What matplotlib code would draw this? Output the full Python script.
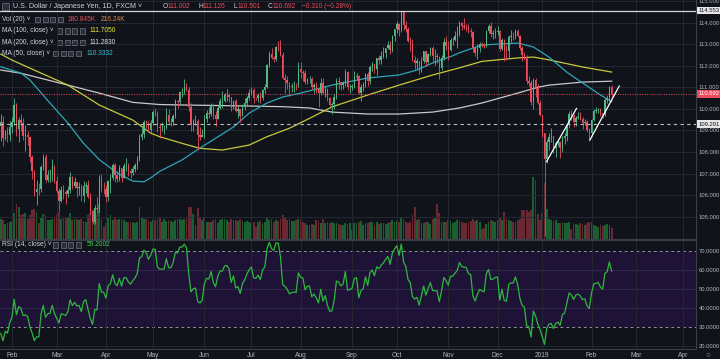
import numpy as np
import pandas as pd
import matplotlib
matplotlib.use("Agg")
import matplotlib.pyplot as plt
from matplotlib.patches import Rectangle
from matplotlib.transforms import blended_transform_factory

# USD/JPY daily bars, 25 Jan 2018 .. 14 Feb 2019 (the feed has no bar on 25 Dec / 1 Jan)
dates = pd.bdate_range("2018-01-25", "2019-02-14")
dates = dates.drop(pd.to_datetime(["2018-12-25", "2019-01-01"]))
future = pd.bdate_range("2019-02-15", "2019-04-30")

# closes before the visible window, only used to warm up the RSI
warmup_closes = [113.55, 113.52, 112.55, 112.36, 112.62, 112.64, 112.87, 113.37, 113.33, 113.26,
                 113.21, 113.33, 112.88, 112.66, 112.28, 112.54, 112.74, 113.05, 113.11, 112.63,
                 111.43, 111.25, 111.03, 110.57, 110.41, 111.05, 111.14, 110.80, 111.01, 110.29, 109.22]

closes = (
    [109.41, 108.63, 108.97, 108.79, 109.18] +
    [109.39, 110.17, 109.06, 109.47, 109.33, 108.76, 108.79, 108.68, 107.79, 107.13,
     106.13, 106.29, 106.28, 107.31, 107.78, 106.71, 106.91, 106.93, 107.35, 106.66] +
    [106.21, 105.75, 106.22, 106.15, 106.07, 106.24, 106.82, 106.42, 106.59, 106.33, 106.36,
     105.97, 106.40, 106.49, 105.90, 105.26, 104.75, 105.40, 105.37, 106.84, 106.29, 106.27] +
    [105.89, 106.64, 106.78, 107.39, 106.91, 106.76, 107.24, 106.80, 107.36, 107.37, 107.14,
     107.03, 107.23, 107.38, 107.63, 108.71, 108.82, 109.38, 109.29, 109.03, 109.33] +
    [109.86, 109.85, 109.18, 109.09, 109.09, 109.10, 109.72, 109.39, 109.39, 109.66, 110.35, 110.34,
     110.77, 110.77, 110.99, 110.89, 110.07, 109.26, 109.41, 109.44, 108.79, 108.70, 108.80] +
    [109.53, 109.81, 109.78, 110.17, 109.72, 109.54, 110.06, 110.35, 110.35, 110.62, 110.66,
     110.55, 110.08, 110.37, 109.91, 109.97, 109.69, 110.09, 110.25, 110.51, 110.72] +
    [110.86, 110.51, 110.49, 110.62, 110.48, 110.87, 111.01, 112.03, 112.55, 112.36, 112.31,
     112.88, 112.87, 112.48, 111.41, 111.33, 111.20, 110.99, 111.04, 111.06, 111.05, 111.86] +
    [111.70, 111.68, 111.25, 111.39, 111.39, 110.99, 111.09, 110.94, 110.75, 111.19, 110.72, 110.91,
     110.49, 110.20, 110.21, 110.54, 111.29, 111.25, 111.11, 111.18, 111.71, 111.00, 111.03] +
    [111.08, 111.48, 111.52, 110.73, 111.02, 111.10, 111.62, 111.28, 111.92, 112.07,
     111.85, 112.34, 112.27, 112.47, 112.59, 112.80, 112.96, 112.73, 113.39, 113.68] +
    [113.93, 113.64, 114.50, 113.87, 113.69, 113.14, 112.99, 112.27, 112.14, 112.22, 111.78, 112.20,
     112.67, 112.19, 112.54, 112.84, 112.44, 112.44, 112.42, 111.89, 112.38, 113.08, 112.93] +
    [112.72, 113.20, 113.21, 113.37, 113.52, 113.97, 113.83, 113.81, 113.80, 113.61, 113.58,
     112.82, 112.60, 112.83, 113.02, 112.96, 112.93, 113.62, 113.82, 113.49, 113.51, 113.57] +
    [113.59, 112.79, 113.18, 112.70, 112.68, 113.31, 113.39, 113.38, 113.63, 113.37,
     112.82, 112.50, 112.42, 111.30, 111.22, 110.33, 111.35, 110.97, 110.28, 109.70] +
    [108.88, 107.69, 108.48, 108.71, 108.74, 108.17, 108.41, 108.48, 108.17, 108.67, 108.74,
     109.24, 109.77, 109.65, 109.37, 109.59, 109.64, 109.54, 109.35, 109.38, 109.02, 108.88] +
    [109.48, 109.90, 109.94, 109.97, 109.79, 109.72, 110.40, 110.48, 111.002, 110.692]
)

highs = (
    [109.78, 109.69, 109.04, 109.18, 109.45] +
    [109.60, 110.48, 110.25, 109.63, 109.78, 109.58, 109.27, 108.96, 108.76, 107.88,
     107.18, 106.72, 106.55, 107.39, 107.91, 107.90, 107.15, 107.22, 107.68, 107.38] +
    [106.90, 106.34, 106.44, 106.45, 106.25, 106.40, 107.05, 106.89, 106.86, 106.63, 106.60,
     106.50, 106.65, 106.63, 106.70, 106.09, 105.32, 105.56, 105.91, 106.92, 107.00, 106.60] +
    [106.46, 106.68, 106.98, 107.49, 107.49, 107.10, 107.39, 107.26, 107.47, 107.70, 107.51,
     107.25, 107.36, 107.48, 107.83, 108.84, 109.20, 109.48, 109.47, 109.44, 109.50] +
    [109.93, 110.03, 109.88, 109.36, 109.40, 109.25, 110.02, 109.98, 109.56, 109.76, 110.45, 110.41,
     110.85, 110.97, 111.40, 111.19, 110.99, 110.29, 109.53, 109.72, 109.54, 109.14, 109.05] +
    [109.73, 109.93, 110.07, 110.27, 110.24, 109.88, 110.13, 110.49, 110.85, 110.75, 110.90,
     110.75, 110.57, 110.43, 110.47, 110.11, 109.99, 110.23, 110.48, 110.60, 110.91] +
    [111.00, 110.98, 110.57, 110.73, 110.78, 110.90, 111.13, 112.08, 112.69, 112.80, 112.45,
     112.92, 113.14, 113.17, 112.62, 111.60, 111.52, 111.25, 111.21, 111.27, 111.20, 112.15] +
    [112.15, 111.82, 111.80, 111.45, 111.50, 111.48, 111.18, 111.24, 110.98, 111.45, 111.44, 111.05,
     110.96, 110.56, 110.33, 110.69, 111.43, 111.48, 111.24, 111.31, 111.83, 111.76, 111.15] +
    [111.16, 111.75, 111.65, 111.58, 111.15, 111.26, 111.66, 111.70, 112.02, 112.17,
     112.08, 112.37, 112.48, 112.68, 112.86, 112.82, 113.14, 113.16, 113.44, 113.71] +
    [114.06, 114.00, 114.55, 114.55, 114.09, 113.80, 113.35, 113.24, 112.43, 112.35, 112.20, 112.39,
     112.68, 112.69, 112.59, 112.89, 112.91, 112.79, 112.57, 112.45, 112.50, 113.29, 113.38] +
    [113.14, 113.30, 113.32, 113.63, 113.82, 114.09, 114.03, 114.21, 113.94, 113.92, 113.77,
     113.61, 112.86, 113.00, 113.10, 113.11, 113.04, 113.67, 113.94, 114.03, 113.64, 113.73] +
    [113.84, 113.67, 113.30, 113.26, 112.98, 113.42, 113.65, 113.58, 113.71, 113.71,
     113.41, 112.92, 112.62, 112.48, 111.54, 111.34, 111.44, 111.45, 111.14, 110.39] +
    [109.73, 108.90, 108.58, 108.88, 109.10, 108.70, 108.50, 108.62, 108.52, 108.75, 108.90,
     109.30, 109.88, 109.93, 109.77, 109.68, 109.86, 109.85, 109.60, 109.54, 109.48, 109.09] +
    [109.55, 109.97, 110.08, 110.03, 110.03, 109.80, 110.48, 110.64, 111.04, 111.126]
)

lows = (
    [108.50, 108.28, 108.56, 108.45, 108.53] +
    [108.89, 109.26, 108.76, 108.45, 108.99, 108.57, 108.05, 108.33, 107.55, 106.74,
     105.96, 105.55, 105.99, 106.13, 107.18, 106.61, 106.60, 106.62, 106.66, 106.58] +
    [106.10, 105.25, 105.70, 105.83, 105.60, 105.90, 106.10, 106.30, 106.35, 105.89, 106.00,
     105.75, 105.67, 106.10, 105.85, 105.12, 104.64, 104.65, 105.12, 105.23, 106.14, 106.05] +
    [105.66, 105.73, 106.09, 106.70, 106.61, 106.62, 106.65, 106.63, 106.78, 107.12, 106.88,
     106.78, 106.93, 107.07, 107.20, 107.57, 108.55, 108.65, 109.10, 108.92, 108.92] +
    [109.27, 109.67, 108.93, 108.65, 108.95, 108.85, 109.08, 109.31, 109.21, 109.25, 109.58, 110.02,
     110.24, 110.53, 110.67, 110.83, 109.89, 108.95, 108.99, 109.25, 108.11, 108.56, 108.73] +
    [108.65, 109.40, 109.59, 109.67, 109.54, 109.19, 109.51, 109.99, 110.05, 110.30, 110.35,
     110.30, 109.90, 110.01, 109.86, 109.57, 109.37, 109.65, 109.95, 110.16, 110.43] +
    [110.65, 110.27, 110.40, 110.30, 110.25, 110.40, 110.72, 110.95, 111.96, 112.30, 112.16,
     112.21, 112.70, 112.44, 111.38, 110.75, 110.92, 110.58, 110.79, 110.76, 110.87, 111.01] +
    [111.41, 111.31, 111.16, 111.14, 111.21, 110.93, 110.72, 110.72, 110.10, 110.65, 110.70, 110.57,
     110.38, 110.12, 109.77, 109.98, 110.44, 110.94, 110.88, 110.92, 111.08, 110.87, 110.74] +
    [110.89, 110.95, 111.34, 110.70, 110.38, 110.82, 111.02, 111.08, 111.16, 111.77,
     111.65, 111.59, 112.08, 112.06, 112.38, 112.35, 112.77, 112.54, 112.62, 113.15] +
    [113.53, 113.38, 113.58, 113.65, 113.55, 113.10, 112.67, 112.20, 111.84, 111.87, 111.63, 111.73,
     112.13, 111.99, 112.14, 112.46, 112.12, 112.02, 112.14, 111.38, 111.78, 112.28, 112.75] +
    [112.28, 112.70, 112.96, 113.16, 112.82, 113.40, 113.67, 113.69, 113.63, 113.50, 113.31,
     112.65, 112.43, 112.30, 112.64, 112.86, 112.83, 112.88, 113.50, 113.31, 113.22, 113.28] +
    [113.41, 112.66, 112.74, 112.22, 112.26, 112.38, 113.10, 113.18, 113.23, 113.33,
     112.71, 112.22, 112.25, 111.16, 111.08, 110.17, 110.00, 110.57, 110.21, 109.68] +
    [108.71, 104.10, 107.48, 108.07, 108.44, 107.94, 107.76, 108.28, 107.74, 107.98, 108.37,
     108.51, 109.11, 109.49, 109.16, 109.20, 109.51, 109.46, 109.06, 109.23, 108.94, 108.50] +
    [108.72, 109.45, 109.79, 109.83, 109.66, 109.56, 109.68, 110.26, 110.35, 110.501]
)

volumes_k = (
    [330, 300, 240, 260, 280] +
    [290, 420, 560, 520, 380, 400, 420, 330, 380, 460, 480, 430, 260, 360, 400, 380, 300, 300, 330, 350] +
    [380, 440, 330, 340, 360, 350, 420, 300, 330, 320, 300, 330, 290, 280, 380, 420, 460, 400, 380, 560, 330, 200] +
    [260, 340, 380, 300, 340, 300, 320, 330, 300, 280, 270, 280, 270, 260, 280, 520, 340, 330, 320, 290, 280] +
    [300, 310, 330, 340, 280, 320, 290, 310, 290, 280, 300, 330, 320, 300, 330, 360, 520, 520, 400, 230, 500, 360, 300] +
    [340, 280, 270, 280, 300, 320, 260, 300, 320, 330, 310, 280, 320, 300, 310, 290, 320, 290, 280, 290, 280] +
    [250, 280, 200, 270, 290, 260, 270, 350, 310, 320, 280, 300, 290, 320, 390, 360, 310, 320, 290, 290, 300, 330] +
    [300, 280, 260, 230, 220, 240, 230, 300, 290, 260, 320, 260, 280, 250, 280, 260, 250, 240, 220, 230, 260, 240, 250] +
    [150, 260, 250, 270, 290, 230, 250, 260, 270, 280, 220, 280, 240, 250, 250, 240, 250, 280, 300, 280] +
    [290, 280, 340, 330, 280, 250, 270, 380, 520, 300, 320, 260, 260, 280, 270, 240, 330, 340, 560, 420, 280, 280, 270] +
    [300, 290, 250, 270, 310, 290, 280, 250, 260, 280, 290, 320, 290, 300, 270, 160, 180, 240, 270, 300, 290, 280] +
    [300, 340, 300, 430, 330, 300, 290, 270, 280, 300, 330, 460, 470, 470, 440, 460, 1000, 950, 400, 300] +
    [420, 900, 480, 330, 300, 290, 300, 250, 260, 280, 250, 260, 280, 160, 260, 240, 230, 250, 240, 230, 260, 280] +
    [280, 220, 210, 200, 220, 210, 230, 240, 230, 180.845]
)

# moving averages, sampled along the drawn curves (bar index, price)
ma50_idx = [0, 9, 13, 22, 30, 37, 44, 52, 59, 64, 67, 71, 81, 89, 97, 104, 111, 119, 126, 134,
            148, 164, 178, 186, 193, 201, 205, 215, 231, 238, 245, 253, 260, 268, 273]
ma50_val = [111.95, 111.66, 111.34, 110.27, 109.34, 108.40, 107.65, 107.03, 106.65, 106.62, 106.80,
            107.10, 107.63, 108.18, 108.70, 109.16, 109.80, 110.27, 110.55, 110.73, 111.10, 111.43,
            111.57, 111.80, 112.13, 112.42, 112.60, 112.96, 113.05, 112.87, 112.40, 111.70, 111.20,
            110.64, 110.3332]
ma100_idx = [0, 5, 30, 44, 59, 67, 71, 81, 89, 99, 111, 119, 129, 138, 148, 164, 178, 193, 205,
             215, 231, 238, 245, 260, 273]
ma100_val = [112.54, 112.26, 111.10, 110.18, 109.48, 108.87, 108.71, 108.40, 108.17, 108.09, 108.32,
             108.71, 109.10, 109.56, 110.09, 110.64, 111.10, 111.57, 111.90, 112.20, 112.36, 112.40,
             112.27, 111.94, 111.705]
ma200_idx = [0, 9, 30, 44, 59, 71, 81, 111, 126, 138, 148, 164, 178, 193, 205, 215, 231, 240, 245, 260, 273]
ma200_val = [111.80, 111.65, 111.10, 110.73, 110.30, 110.20, 110.18, 110.13, 110.10, 110.04, 109.85,
             109.76, 109.76, 109.85, 110.04, 110.27, 110.73, 111.00, 111.10, 111.24, 111.283]

# hand drawn trend lines
trend_a_idx = [243.9, 257.3]
trend_a_px = [107.55, 110.02]
trend_b_idx = [263.3, 276.4]
trend_b_px = [108.56, 111.06]

high_line = 114.553
dash_line = 109.291

BG = "#11131b"
GRID = "#242833"
TXT = "#b2b5be"
UP = "#53b987"
DOWN = "#eb4d5c"
FONT = ["Liberation Sans", "DejaVu Sans"]
AX_FS = 4.2
LEG_FS = 4.8

n = len(closes)
x = np.arange(n)
c = np.array(closes)
o = np.array([warmup_closes[-1]] + closes[:-1])
h = np.array(highs)
l = np.array(lows)
up = c >= o

# RSI(14), Wilder smoothing
s = pd.Series(warmup_closes + closes)
d = s.diff().fillna(0)
ag = d.clip(lower=0).ewm(alpha=1 / 14, adjust=False).mean()
al = (-d.clip(upper=0)).ewm(alpha=1 / 14, adjust=False).mean()
rsi = (100 - 100 / (1 + ag / al)).to_numpy()[-n:]

# month ticks (first bar of each month, future months continue the bar count)
all_days = list(dates) + list(future)
tick_pos, tick_lab = [], []
for i in range(1, len(all_days)):
    if all_days[i].month != all_days[i - 1].month:
        tick_pos.append(i)
        tick_lab.append(str(all_days[i].year) if all_days[i].month == 1 else all_days[i].strftime("%b"))

W, H = 720, 359
fig = plt.figure(figsize=(W / 100, H / 100), dpi=100, facecolor=BG)


def fx(px):
    return px / W


def fy(py):
    return 1 - py / H


x_lim = (-0.34, 310.7)
ax = fig.add_axes([0, fy(239), fx(696), 239 / H])
ax_vol = ax.twinx()
ax.set_zorder(ax_vol.get_zorder() + 1)
ax.patch.set_visible(False)
ax_vol.set_facecolor(BG)

ax_vol.bar(x, volumes_k, width=0.8, color=np.where(up, "#1b5e30", "#6a2832"), linewidth=0)
ax_vol.set_ylim(0, 3850)
ax_vol.set_yticks([])
for sp in ax_vol.spines.values():
    sp.set_visible(False)

ax.set_xlim(*x_lim)
ax.set_ylim(103.966, 115.046)
ax.set_xticks(tick_pos)
ax.set_yticks(range(105, 116))
ax.set_yticklabels([f"{v}.000" for v in range(105, 116)])
ax.grid(color=GRID, lw=0.7, zorder=0)
ax.yaxis.tick_right()
ax.tick_params(axis="y", length=0, pad=1.8, labelsize=AX_FS, labelcolor=TXT)
ax.tick_params(axis="x", length=0, labelbottom=False)
for lab in ax.get_yticklabels():
    lab.set_fontfamily(FONT)
for k, sp in ax.spines.items():
    sp.set_visible(k in ("right", "bottom"))
    sp.set_color("#3a3e49")
    sp.set_linewidth(0.8)

ax.plot(ma200_idx, ma200_val, color="#c9c9c9", lw=0.9, zorder=2)
ax.plot(ma100_idx, ma100_val, color="#c8c83a", lw=0.9, zorder=2)
ax.plot(ma50_idx, ma50_val, color="#2ba6b6", lw=0.9, zorder=2)

col = np.where(up, UP, DOWN)
ax.vlines(x, l, h, colors=col, lw=0.6, zorder=3)
ax.bar(x, np.maximum(np.abs(c - o), 0.012), bottom=np.minimum(o, c), width=0.62,
       color=col, linewidth=0, zorder=4)

ax.axhline(high_line, color="#d6d6d6", lw=0.9, zorder=5)
ax.axhline(dash_line, color="#bdbdbd", lw=0.8, ls=(0, (3, 3)), zorder=5)
ax.axhline(c[-1], color=DOWN, lw=0.7, ls=(0, (1, 1.5)), zorder=5)
ax.plot(trend_a_idx, trend_a_px, color="white", lw=0.9, zorder=6)
ax.plot(trend_b_idx, trend_b_px, color="white", lw=0.9, zorder=6)

tr = blended_transform_factory(ax.transAxes, ax.transData)
for val, fc, tc in [(high_line, "#e6e6e6", "#131722"), (c[-1], DOWN, "white"), (dash_line, "#e6e6e6", "#131722")]:
    ax.text(1.0035, val, f"{val:.3f}", transform=tr, fontsize=AX_FS, family=FONT, color=tc,
            va="center", ha="left", clip_on=False, zorder=10,
            bbox=dict(boxstyle="square,pad=0.2", fc=fc, ec="none"))

# RSI pane
ax_r = fig.add_axes([0, fy(349), fx(696), 109 / H])
ax_r.set_facecolor(BG)
ax_r.set_xlim(*x_lim)
ax_r.set_ylim(18.26, 75.81)
ax_r.axhspan(30, 70, color="#1e1236", lw=0, zorder=0)
for lev in (40, 50, 60):
    ax_r.axhline(lev, color="#352c52", lw=0.6, zorder=0.5)
ax_r.axhline(20, color=GRID, lw=0.7, zorder=0.5)
for lev in (30, 70):
    ax_r.axhline(lev, color="#8f8fa0", lw=0.7, ls=(0, (3, 3)), zorder=1)
ax_r.plot(x, rsi, color="#2db83d", lw=0.9, zorder=3)
ax_r.set_xticks(tick_pos)
ax_r.set_xticklabels(tick_lab)
ax_r.grid(axis="x", color=GRID, lw=0.7, zorder=0.6)
ax_r.set_yticks([20, 30, 40, 50, 60, 70])
ax_r.set_yticklabels([f"{v}.0000" for v in (20, 30, 40, 50, 60, 70)])
ax_r.yaxis.tick_right()
ax_r.tick_params(axis="y", length=0, pad=1.8, labelsize=AX_FS, labelcolor=TXT)
ax_r.tick_params(axis="x", length=0, pad=2.2, labelsize=4.8, labelcolor=TXT)
for lab in ax_r.get_yticklabels() + ax_r.get_xticklabels():
    lab.set_fontfamily(FONT)
for k, sp in ax_r.spines.items():
    sp.set_visible(k in ("right", "bottom", "top"))
    sp.set_color("#3a3e49")
    sp.set_linewidth(0.8)


# legend rows
def icons(x0, py, count=4):
    for i in range(count):
        fig.add_artist(Rectangle((fx(x0 + i * 7.6), fy(py + 2.6)), fx(5.2), 5.2 / H,
                                 transform=fig.transFigure, fc="#2a2e39", ec="#8c8f99", lw=0.4))


def label(px, py, s, color="#d1d4dc", size=LEG_FS):
    fig.text(fx(px), fy(py), s, color=color, fontsize=size, family=FONT, va="center", ha="left")


fig.add_artist(Rectangle((fx(2), fy(10)), fx(7), 7 / H, transform=fig.transFigure,
                         fc="#2a2e39", ec="#8c8f99", lw=0.4))
label(13, 6.7, "U.S. Dollar / Japanese Yen, 1D, FXCM \u02c5", size=LEG_FS + 0.3)
for gx, letter, val in [(163, "O", 111.002), (198, "H", 111.126), (233, "L", 110.501), (268, "C", 110.692)]:
    label(gx, 6.7, letter)
    label(gx + 4.6, 6.7, f"{val:.3f}", color=DOWN)
label(302, 6.7, "\u22120.310 (\u22120.28%)", color=DOWN)

label(2, 19.3, "Vol (20) \u02c5")
icons(35, 19.3)
label(68, 19.3, "180.845K", color="#d9535f")
label(101, 19.3, "216.24K", color="#e0843a")

label(2, 31, "MA (100, close) \u02c5")
icons(57, 31)
label(90, 31, "111.7050", color="#e8e832")

label(2, 42.3, "MA (200, close) \u02c5")
icons(57, 42.3)
label(90, 42.3, "111.2830", color="#e0e0e0")

label(2, 53.3, "MA (50, close) \u02c5")
icons(53, 53.3)
label(87, 53.3, "110.3332", color="#33c3d3")

label(2, 245, "RSI (14, close) \u02c5")
icons(53, 245)
label(87, 245, "59.2002", color="#3ad14a")

fig.text(fx(708), fy(355), "\u25cb", color="#8a8d96", fontsize=6, family=FONT, ha="center", va="center")

fig.savefig("out.png", dpi=100, facecolor=BG)
